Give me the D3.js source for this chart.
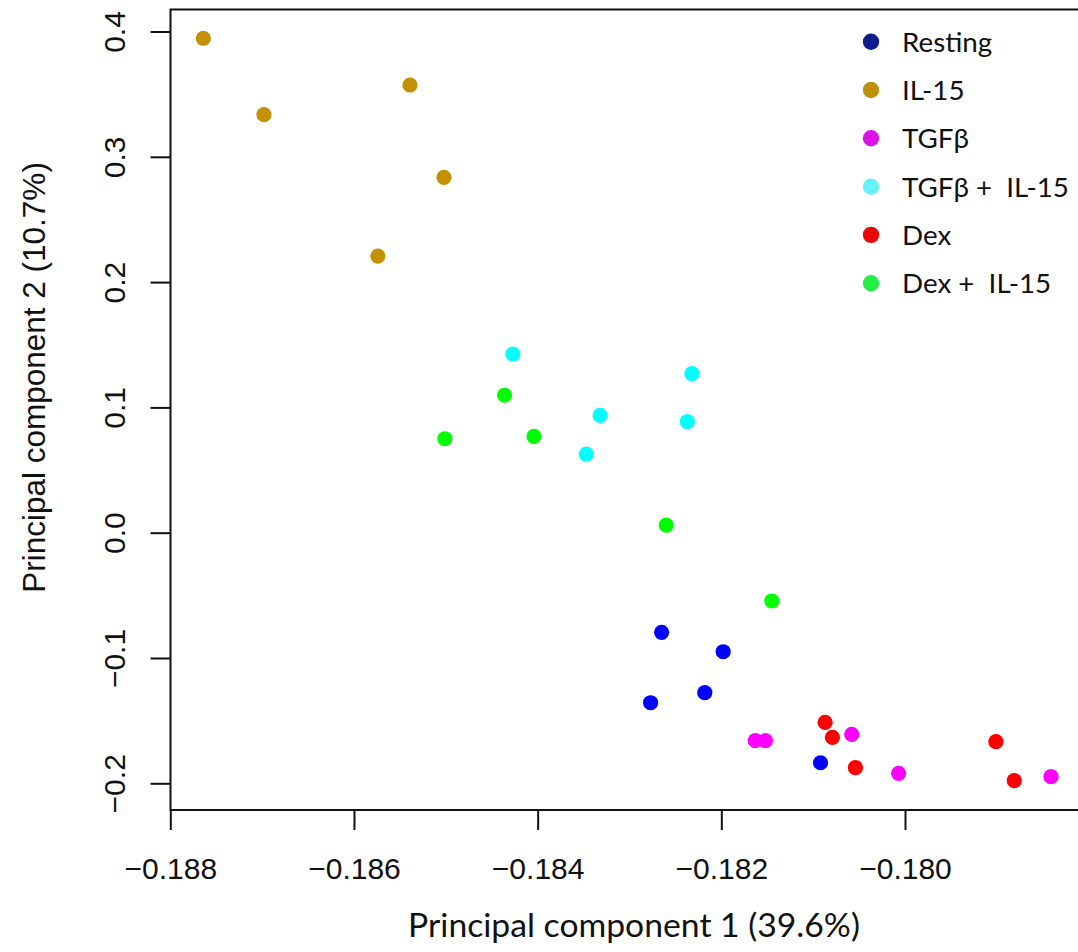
<!DOCTYPE html>
<html>
<head>
<meta charset="utf-8">
<script src="https://cdn.jsdelivr.net/npm/d3@7"></script>
<style>
  html, body { margin: 0; padding: 0; background: #fff; }
  svg { display: block; }
</style>
</head>
<body>
<svg id="chart" width="1078" height="952"></svg>
<script>
// Treatment groups, in legend order
const groups = ["Resting", "IL-15", "TGFβ", "TGFβ +  IL-15", "Dex", "Dex +  IL-15"];
const pointColors = ["#0000ff", "#c49102", "#ff00ff", "#00ffff", "#ff0000", "#00ff00"];
const legendColors = ["#0c1c8c", "#c0900c", "#dd12e6", "#66f2fb", "#ee0606", "#22ee44"];

// PC1 scores per group (same order as groups)
const pc1 = [
  [-0.18265, -0.18198, -0.18218, -0.18277, -0.18092],
  [-0.18764, -0.18698, -0.18539, -0.18502, -0.18574],
  [-0.18163, -0.18152, -0.18058, -0.18007, -0.17841],
  [-0.18427, -0.18232, -0.18332, -0.18237, -0.18347],
  [-0.18087, -0.18079, -0.18054, -0.17901, -0.17881],
  [-0.18436, -0.18501, -0.18404, -0.18260, -0.18145]
];
// PC2 scores per group
const pc2 = [
  [-0.0795, -0.0950, -0.1277, -0.1357, -0.1836],
  [0.3946, 0.3336, 0.3573, 0.2836, 0.2208],
  [-0.1660, -0.1660, -0.1609, -0.1920, -0.1947],
  [0.1426, 0.1269, 0.0937, 0.0886, 0.0628],
  [-0.1513, -0.1633, -0.1875, -0.1668, -0.1979],
  [0.1097, 0.0750, 0.0769, 0.0061, -0.0545]
];

const xTicks = [-0.188, -0.186, -0.184, -0.182, -0.180];
const xTickLabels = ["\u22120.188", "\u22120.186", "\u22120.184", "\u22120.182", "\u22120.180"];
const yTicks = [-0.2, -0.1, 0.0, 0.1, 0.2, 0.3, 0.4];
const yTickLabels = ["\u22120.2", "\u22120.1", "0.0", "0.1", "0.2", "0.3", "0.4"];

const xTitle = "Principal component 1 (39.6%)";
const yTitle = "Principal component 2 (10.7%)";

// ---- layout ----
const svg = d3.select("#chart");
const plot = { left: 170.5, right: 1092, top: 9.5, bottom: 810 };
const x = d3.scaleLinear().domain([-0.188, -0.180]).range([170.3, 905]);
const y = d3.scaleLinear().domain([-0.2, 0.4]).range([783.3, 31.5]);

const axisFont = "'Liberation Sans', Arial, Helvetica, sans-serif";
const labelFont = "Lato, 'Open Sans', sans-serif";

// plot frame
svg.append("rect")
  .attr("x", plot.left).attr("y", plot.top)
  .attr("width", plot.right - plot.left).attr("height", plot.bottom - plot.top)
  .attr("fill", "none").attr("stroke", "#111").attr("stroke-width", 2);

// x axis
const gx = svg.append("g")
  .attr("transform", `translate(0,${plot.bottom})`)
  .call(d3.axisBottom(x).tickValues(xTicks).tickSize(20)
    .tickFormat((d, i) => xTickLabels[i]));
gx.select(".domain").remove();
gx.selectAll(".tick line").attr("stroke", "#111").attr("stroke-width", 2);
gx.selectAll(".tick text")
  .attr("y", 69).attr("dy", null)
  .attr("fill", "#111")
  .style("font-family", axisFont).style("font-size", "30px");

// y axis with labels turned parallel to the axis
const gy = svg.append("g")
  .attr("transform", `translate(${plot.left},0)`)
  .call(d3.axisLeft(y).tickValues(yTicks).tickSize(20)
    .tickFormat((d, i) => yTickLabels[i]));
gy.select(".domain").remove();
gy.selectAll(".tick line").attr("stroke", "#111").attr("stroke-width", 2);
gy.selectAll(".tick text")
  .attr("x", null).attr("dy", null)
  .attr("text-anchor", "middle")
  .attr("transform", "translate(-45.5,0) rotate(-90)")
  .attr("fill", "#111")
  .style("font-family", axisFont).style("font-size", "30px");

// points
groups.forEach((g, gi) => {
  const pts = d3.zip(pc1[gi], pc2[gi]);
  svg.append("g").selectAll("circle")
    .data(pts).join("circle")
    .attr("cx", d => x(d[0]))
    .attr("cy", d => y(d[1]))
    .attr("r", 7.6)
    .attr("fill", pointColors[gi]);
});

// legend
const legend = svg.append("g");
const rows = legend.selectAll("g").data(groups).join("g")
  .attr("transform", (d, i) => `translate(871,${41.7 + i * 48.3})`);
rows.append("circle").attr("r", 8.2).attr("fill", (d, i) => legendColors[i]);
const legendText = rows.append("text")
  .attr("x", 31).attr("y", 10)
  .attr("fill", "#111")
  .style("font-family", labelFont).style("font-size", "30px")
  .style("white-space", "pre")
  .text(d => d);

// size the legend text so the widest row spans its measured width
(function fitLegend() {
  const node = legendText.filter((d, i) => i === 3).node();
  const w = node.getComputedTextLength();
  const fs = 30 * 167 / w;
  legendText.style("font-size", fs + "px");
})();

// axis titles
const xt = svg.append("text")
  .attr("x", 634).attr("y", 937)
  .attr("text-anchor", "middle")
  .attr("fill", "#111")
  .style("font-family", labelFont).style("font-size", "30px")
  .text(xTitle);
(function fitX() {
  const w = xt.node().getComputedTextLength();
  xt.style("font-size", (30 * 452 / w) + "px");
})();

svg.append("text")
  .attr("transform", "translate(45,377.5) rotate(-90)")
  .attr("text-anchor", "middle")
  .attr("fill", "#111")
  .style("font-family", axisFont).style("font-size", "31.5px")
  .text(yTitle);
</script>
</body>
</html>
